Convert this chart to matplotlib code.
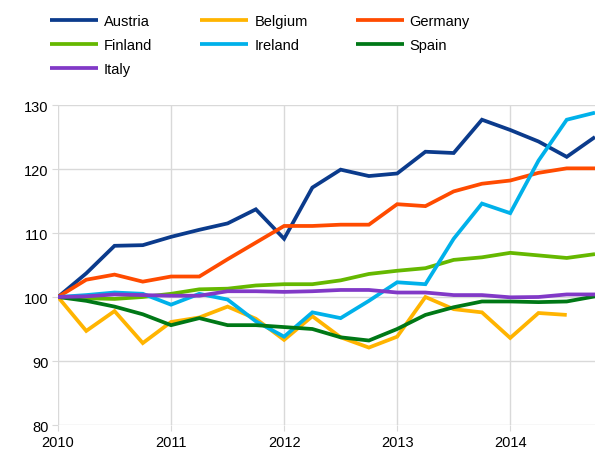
import matplotlib.pyplot as plt
import numpy as np

plt.rcParams['font.family'] = ['Liberation Sans', 'DejaVu Sans']

# quarterly index, 2010 Q1 = 100
quarters = np.arange(20) / 4 + 2010
years = [2010, 2011, 2012, 2013, 2014]

austria = [100, 103.7, 108.0, 108.1, 109.4, 110.5, 111.5, 113.7, 109.1, 117.1,
           119.9, 118.9, 119.3, 122.7, 122.5, 127.7, 126.1, 124.3, 121.9, 125.0]
belgium = [100, 94.7, 97.8, 92.8, 96.1, 96.8, 98.5, 96.6, 93.3, 97.0,
           93.7, 92.1, 93.8, 100.0, 98.1, 97.6, 93.6, 97.5, 97.2]
germany = [100, 102.7, 103.5, 102.4, 103.2, 103.2, 105.9, 108.5, 111.1, 111.1,
           111.3, 111.3, 114.5, 114.2, 116.5, 117.7, 118.2, 119.4, 120.1, 120.1]
finland = [100, 99.8, 99.7, 100.0, 100.5, 101.2, 101.3, 101.8, 102.0, 102.0,
           102.6, 103.6, 104.1, 104.5, 105.8, 106.2, 106.9, 106.5, 106.1, 106.7]
ireland = [100, 100.3, 100.7, 100.5, 98.8, 100.5, 99.6, 96.2, 93.8, 97.6,
           96.7, 99.4, 102.3, 102.0, 109.1, 114.6, 113.1, 121.3, 127.7, 128.8]
spain = [100, 99.4, 98.5, 97.3, 95.6, 96.7, 95.6, 95.6, 95.3, 95.0,
         93.7, 93.2, 95.0, 97.2, 98.4, 99.3, 99.3, 99.2, 99.3, 100.1]
italy = [100, 100.1, 100.4, 100.3, 100.2, 100.2, 100.9, 100.9, 100.8, 100.9,
         101.1, 101.1, 100.7, 100.7, 100.3, 100.3, 99.95, 100.0, 100.4, 100.4]

series = [
    ('Austria', austria, '#0b3b8c'),
    ('Belgium', belgium, '#ffb400'),
    ('Germany', germany, '#ff4b00'),
    ('Finland', finland, '#65b800'),
    ('Ireland', ireland, '#00b1ea'),
    ('Spain', spain, '#007816'),
    ('Italy', italy, '#8139c7'),
]

fig = plt.figure(figsize=(5.95, 4.52), dpi=100)
ax = fig.add_axes([58 / 595, 26 / 452, 1 - 58 / 595, 320 / 452])

lines = {}
for name, vals, col in series:
    lines[name], = ax.plot(quarters[:len(vals)], vals, color=col, lw=2.7,
                           label=name, solid_joinstyle='miter',
                           solid_capstyle='butt')

ax.set_xlim(2010, 2014.75)
ax.set_ylim(80, 130)
ax.set_xticks(years)
ax.set_xticklabels([str(y) for y in years])
ax.set_yticks(range(80, 131, 10))
ax.grid(True, color='#d9d9d9', lw=1)
ax.set_axisbelow(True)
for s in ax.spines.values():
    s.set_visible(False)
ax.tick_params(axis='both', colors='#d9d9d9', length=4, labelsize=10.5,
               labelcolor='black', pad=3)

# legend fills column by column, so order entries to read row by row
order = ['Austria', 'Finland', 'Italy', 'Belgium', 'Ireland', 'Germany', 'Spain']
fig.legend([lines[n] for n in order], order, loc='upper left',
           bbox_to_anchor=(44 / 595, 1 - 9 / 452), ncol=3,
           frameon=False, fontsize=10.5, handlelength=3.3, handletextpad=0.4,
           columnspacing=3.3, labelspacing=0.7, borderaxespad=0)

fig.savefig('out.png', dpi=100)
